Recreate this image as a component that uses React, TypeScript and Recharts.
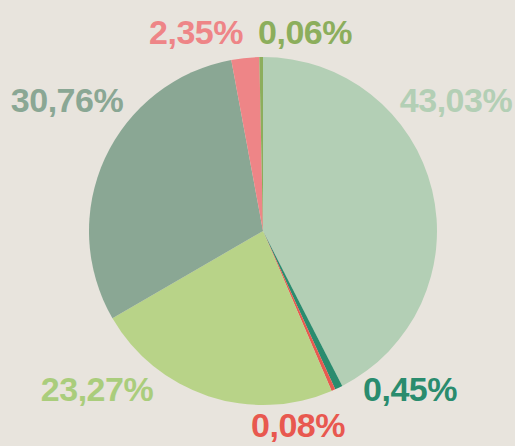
import React from "react";
import { PieChart, Pie, Cell } from "recharts";

const categories = ["A", "B", "C", "D", "E", "F", "G"];
const values = [43.03, 0.45, 0.08, 23.27, 30.76, 2.35, 0.06];
const labels = ["43,03%", "0,45%", "0,08%", "23,27%", "30,76%", "2,35%", "0,06%"];
const sliceColors = ["#b3cfb5", "#2a8c6e", "#e85a50", "#b8d388", "#8aa794", "#ee8587", "#8cae5c"];
const labelColors = ["#b3cfb5", "#2a8c6e", "#e8584f", "#aacd7c", "#8aa794", "#ee8587", "#8cae5c"];

// label offsets relative to the pie centre (layout only)
const labelOffsets: [number, number][] = [
  [193, -119],
  [147, 170],
  [35, 206],
  [-166, 170],
  [-196, -119],
  [-67, -187],
  [42, -187],
];

const data = categories.map((c, i) => ({ name: c, value: values[i] }));

const renderLabel = (props: any) => {
  const { cx, cy, index } = props;
  const [dx, dy] = labelOffsets[index];
  return (
    <text
      x={cx + dx}
      y={cy + dy}
      textAnchor="middle"
      fill={labelColors[index]}
      fontFamily="'Liberation Sans Narrow', 'Liberation Sans', sans-serif"
      fontWeight="bold"
      fontSize={34}
      letterSpacing={-0.5}
    >
      {labels[index]}
    </text>
  );
};

export default function App() {
  return (
    <div
      style={{
        position: "fixed",
        left: 0,
        top: 0,
        width: 515,
        height: 446,
        background: "#e8e4dd",
      }}
    >
      <PieChart width={515} height={446} margin={{ top: 0, right: 0, bottom: 0, left: 0 }}>
        <Pie
          data={data}
          dataKey="value"
          nameKey="name"
          cx={263}
          cy={231}
          outerRadius={174}
          startAngle={90}
          endAngle={-270}
          minAngle={1}
          stroke="none"
          label={renderLabel}
          labelLine={false}
          isAnimationActive={false}
        >
          {data.map((d, i) => (
            <Cell key={d.name} fill={sliceColors[i]} />
          ))}
        </Pie>
      </PieChart>
    </div>
  );
}
